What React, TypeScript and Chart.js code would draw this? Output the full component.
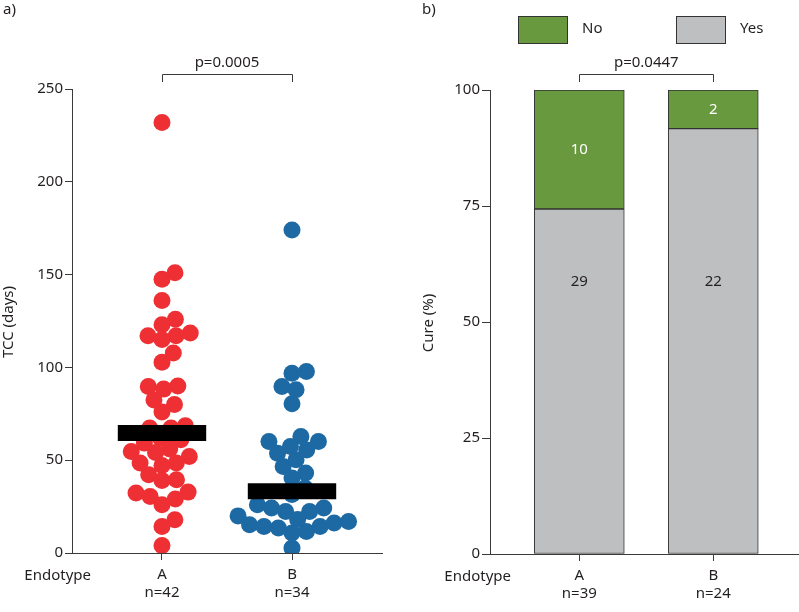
import React, { useEffect, useRef } from "react";
import { Chart, registerables } from "chart.js";

Chart.register(...registerables);

// ---------- Data ----------
const GROUPS = ["A", "B"];
const TCC_A = [
  232, 151, 147.5, 136, 126, 123, 118.5, 117, 117, 115, 107.7, 102.8, 90, 89.7,
  88.3, 82.5, 80, 76, 68.5, 67.3, 67.3, 62, 61, 59.2, 56, 54.7, 54.2, 52, 48.5,
  48.5, 47.2, 42.2, 39.5, 39.1, 32.8, 32.3, 30.5, 29.1, 26, 17.9, 14.3, 4.1,
];
const TCC_B = [
  174, 97.8, 96.9, 89.7, 87.9, 80.4, 62.8, 60.1, 60.1, 57.4, 55.5, 53.8, 50.2,
  46.6, 43.1, 40.4, 35, 31.5, 26, 24.2, 24.2, 22.4, 22.4, 20, 18, 17, 16.2,
  15.2, 14.3, 14.3, 13.5, 11.6, 10.8, 2.7,
];
const CURE_YES = [29, 22];
const CURE_NO = [10, 2];
const P_LEFT = "p=0.0005";
const P_RIGHT = "p=0.0447";
const Y_TICKS_LEFT = [0, 50, 100, 150, 200, 250];
const Y_TICKS_RIGHT = [0, 25, 50, 75, 100];

// ---------- Styles ----------
const FONT = "'Noto Sans', sans-serif";
const FS = 15;
const TEXT = "#231f20";
const AXIS = "#3a3a3a";
const RED = "#ee2f33";
const BLUE = "#1d69a4";
const GREEN = "#69993e";
const GREY = "#bebfc1";
const BAR_EDGE = "#333333";

const median = (arr: number[]) => {
  const s = [...arr].sort((a, b) => a - b);
  const m = s.length / 2;
  return s.length % 2 ? s[Math.floor(m)] : (s[m - 1] + s[m]) / 2;
};

Chart.defaults.font.family = FONT;
Chart.defaults.font.size = FS;
Chart.defaults.color = TEXT;

const SWARM_D = 14.5;
const beeswarm = {
  id: "beeswarm",
  afterDatasetsUpdate(chart: any) {
    const xs = chart.scales.x;
    chart.data.datasets.forEach((ds: any, di: number) => {
      if (!ds.swarmCenter) return;
      const meta = chart.getDatasetMeta(di);
      const pts = meta.data;
      const cx = xs.getPixelForValue(ds.swarmCenter);
      const order = pts.map((_: any, i: number) => i).sort((a: number, b: number) => pts[b].y - pts[a].y);
      const placed: { off: number; y: number }[] = [];
      for (const i of order) {
        const y = pts[i].y;
        const cands = [0];
        for (const q of placed) {
          const dy = Math.abs(q.y - y);
          if (dy < SWARM_D) {
            const dx = Math.sqrt(SWARM_D * SWARM_D - dy * dy);
            cands.push(q.off + dx + 0.01, q.off - dx - 0.01);
          }
        }
        cands.sort((a, b) => Math.abs(a) - Math.abs(b) || b - a);
        let chosen = 0;
        for (const c of cands) {
          if (placed.every((q) => (q.off - c) ** 2 + (q.y - y) ** 2 >= SWARM_D * SWARM_D - 0.5)) {
            chosen = c;
            break;
          }
        }
        placed.push({ off: chosen, y });
        pts[i].x = cx + chosen;
      }
    });
  },
};

function axisCommon(tickLen: number, pad: number) {
  return {
    grid: { display: true, drawOnChartArea: false, drawTicks: true, tickLength: tickLen, color: AXIS, lineWidth: 1, offset: false },
    border: { display: true, color: AXIS, width: 1 },
    ticks: { padding: pad, color: TEXT, font: { family: FONT, size: FS, lineHeight: 1.25 } },
  };
}

function drawText(ctx: any, txt: string, x: number, y: number, align = "left", baseline = "alphabetic", color = TEXT) {
  ctx.save();
  ctx.font = `${FS}px ${FONT}`;
  ctx.fillStyle = color;
  ctx.textAlign = align;
  ctx.textBaseline = baseline;
  ctx.fillText(txt, x, y);
  ctx.restore();
}

function drawBracket(chart: any, p: string) {
  const ctx = chart.ctx;
  const xs = chart.scales.x;
  const x1 = xs.getPixelForValue(1);
  const x2 = xs.getPixelForValue(2);
  ctx.save();
  ctx.strokeStyle = AXIS;
  ctx.lineWidth = 1;
  ctx.beginPath();
  ctx.moveTo(Math.round(x1) + 0.5, 82);
  ctx.lineTo(Math.round(x1) + 0.5, 74.5);
  ctx.lineTo(Math.round(x2) + 0.5, 74.5);
  ctx.lineTo(Math.round(x2) + 0.5, 82);
  ctx.stroke();
  ctx.restore();
  drawText(ctx, p, (x1 + x2) / 2, 67, "center");
}

function drawYTitle(chart: any, txt: string, x: number) {
  const ctx = chart.ctx;
  const a = chart.chartArea;
  ctx.save();
  ctx.translate(x, (a.top + a.bottom) / 2 + 1);
  ctx.rotate(-Math.PI / 2);
  ctx.font = `${FS}px ${FONT}`;
  ctx.fillStyle = TEXT;
  ctx.textAlign = "center";
  ctx.textBaseline = "middle";
  ctx.fillText(txt, 0, 0);
  ctx.restore();
}

const leftDecor = {
  id: "leftDecor",
  afterDraw(chart: any) {
    const ctx = chart.ctx;
    drawText(ctx, "a)", 3, 14);
    drawBracket(chart, P_LEFT);
    drawYTitle(chart, "TCC (days)", 9);
    drawText(ctx, "Endotype", 91, chart.scales.x.top + 23, "right", "middle");
  },
};

const YES_LABEL_Y = 58.6;
const rightDecor = {
  id: "rightDecor",
  afterDraw(chart: any) {
    const ctx = chart.ctx;
    drawText(ctx, "b)", 22, 14);
    drawBracket(chart, P_RIGHT);
    drawYTitle(chart, "Cure (%)", 29);
    drawText(ctx, "Endotype", 111, chart.scales.x.top + 23, "right", "middle");
    // legend
    const items = [
      { label: chart.data.datasets[1].label, color: chart.data.datasets[1].backgroundColor, x: 118 },
      { label: chart.data.datasets[0].label, color: chart.data.datasets[0].backgroundColor, x: 276 },
    ];
    for (const it of items) {
      ctx.save();
      ctx.fillStyle = it.color;
      ctx.fillRect(it.x, 16, 49, 27);
      ctx.strokeStyle = BAR_EDGE;
      ctx.lineWidth = 1;
      ctx.strokeRect(it.x + 0.5, 16.5, 49, 27);
      ctx.restore();
      drawText(ctx, it.label, it.x + 64, 33);
    }
    // segment labels
    const xs = chart.scales.x;
    const ys = chart.scales.y;
    const noMeta = chart.getDatasetMeta(1);
    CURE_YES.forEach((c, i) => {
      const x = xs.getPixelForValue(i + 1);
      drawText(ctx, String(c), x, ys.getPixelForValue(YES_LABEL_Y), "center", "middle", TEXT);
      const el = noMeta.data[i];
      drawText(ctx, String(CURE_NO[i]), x, (el.y + el.base) / 2, "center", "middle", "#ffffff");
    });
  },
};

const MED_HALF = 0.34;

function LeftChart() {
  const ref = useRef<HTMLCanvasElement>(null);
  useEffect(() => {
    const groups = [TCC_A, TCC_B];
    const colors = [RED, BLUE];
    const datasets: any[] = [];
    groups.forEach((vals, gi) => {
      const m = median(vals);
      datasets.push({
        type: "line",
        data: [
          { x: gi + 1 - MED_HALF, y: m },
          { x: gi + 1 + MED_HALF, y: m },
        ],
        borderColor: "#000000",
        borderWidth: 16,
        borderCapStyle: "butt",
        pointRadius: 0,
        order: 0,
      });
    });
    groups.forEach((vals, gi) => {
      datasets.push({
        type: "scatter",
        swarmCenter: gi + 1,
        data: vals.map((v) => ({ x: gi + 1, y: v })),
        backgroundColor: colors[gi],
        borderColor: colors[gi],
        borderWidth: 0,
        pointRadius: 8.5,
        pointHoverRadius: 8.5,
        order: 1,
      });
    });
    const ax = axisCommon(7, 2);
    const chart = new Chart(ref.current!, {
      type: "scatter",
      data: { datasets },
      plugins: [beeswarm, leftDecor],
      options: {
        animation: false,
        responsive: false,
        layout: { padding: { left: 0, top: 89, right: 18, bottom: 0 } },
        plugins: { legend: { display: false }, tooltip: { enabled: false } },
        scales: {
          x: {
            type: "linear",
            min: 0.3077,
            max: 2.6923,
            ...ax,
            ticks: {
              ...ax.ticks,
              padding: 5,
              autoSkip: false,
              maxRotation: 0,
              callback: (v: any) => [GROUPS[v - 1], `n=${groups[v - 1].length}`],
            },
            afterBuildTicks: (s: any) => {
              s.ticks = GROUPS.map((_, i) => ({ value: i + 1 }));
            },
            afterFit: (s: any) => {
              s.height = 59;
            },
          },
          y: {
            type: "linear",
            min: 0,
            max: 250,
            ...ax,
            afterBuildTicks: (s: any) => {
              s.ticks = Y_TICKS_LEFT.map((v) => ({ value: v }));
            },
            afterFit: (s: any) => {
              s.width = 72;
            },
          },
        },
      } as any,
    });
    return () => chart.destroy();
  }, []);
  return <canvas ref={ref} width={400} height={612} style={{ width: 400, height: 612, display: "block" }} />;
}

function RightChart() {
  const ref = useRef<HTMLCanvasElement>(null);
  useEffect(() => {
    const n = CURE_YES.map((y, i) => y + CURE_NO[i]);
    const yesPct = CURE_YES.map((v, i) => ({ x: i + 1, y: (v / n[i]) * 100 }));
    const noPct = CURE_NO.map((v, i) => ({ x: i + 1, y: (v / n[i]) * 100 }));
    const ax = axisCommon(8, 2);
    const common = {
      borderColor: BAR_EDGE,
      borderWidth: 1,
      borderSkipped: false,
      barThickness: 90,
    };
    const chart = new Chart(ref.current!, {
      type: "bar",
      data: {
        datasets: [
          { label: "Yes", data: yesPct, backgroundColor: GREY, ...common },
          { label: "No", data: noPct, backgroundColor: GREEN, ...common },
        ],
      },
      plugins: [rightDecor],
      options: {
        animation: false,
        responsive: false,
        layout: { padding: { left: 0, top: 90, right: 0, bottom: 0 } },
        plugins: { legend: { display: false }, tooltip: { enabled: false } },
        scales: {
          x: {
            type: "linear",
            stacked: true,
            min: 0.3336,
            max: 2.64,
            offset: false,
            ...ax,
            grid: { ...ax.grid, tickLength: 7 },
            ticks: {
              ...ax.ticks,
              padding: 5,
              autoSkip: false,
              maxRotation: 0,
              callback: (v: any) => [GROUPS[v - 1], `n=${n[v - 1]}`],
            },
            afterBuildTicks: (s: any) => {
              s.ticks = GROUPS.map((_, i) => ({ value: i + 1 }));
            },
            afterFit: (s: any) => {
              s.height = 58;
            },
          },
          y: {
            type: "linear",
            stacked: true,
            min: 0,
            max: 100,
            ...ax,
            afterBuildTicks: (s: any) => {
              s.ticks = Y_TICKS_RIGHT.map((v) => ({ value: v }));
            },
            afterFit: (s: any) => {
              s.width = 90;
            },
          },
        },
      } as any,
    });
    return () => chart.destroy();
  }, []);
  return <canvas ref={ref} width={399} height={612} style={{ width: 399, height: 612, display: "block" }} />;
}

export default function App() {
  return (
    <div style={{ position: "fixed", left: 0, top: 0, width: 799, height: 612, background: "#ffffff", overflow: "hidden" }}>
      <div style={{ position: "absolute", left: 0, top: 0 }}>
        <LeftChart />
      </div>
      <div style={{ position: "absolute", left: 400, top: 0 }}>
        <RightChart />
      </div>
    </div>
  );
}
